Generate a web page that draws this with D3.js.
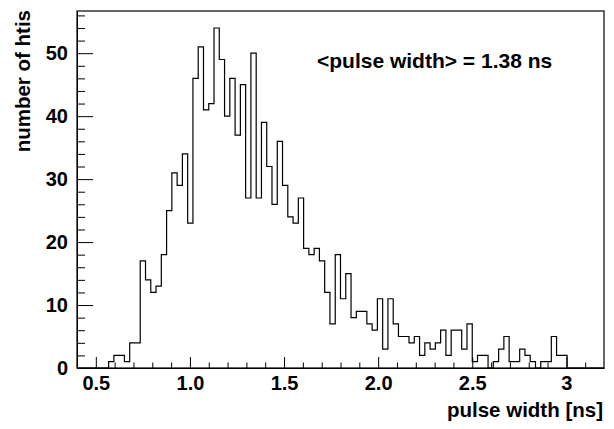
<!DOCTYPE html>
<html>
<head>
<meta charset="utf-8">
<script src="https://cdn.jsdelivr.net/npm/d3@7"></script>
<style>
  body { margin: 0; background: #fff; }
  svg { display: block; }
  text { font-family: "Liberation Sans", Arial, sans-serif; font-weight: bold; }
</style>
</head>
<body>
<svg id="hist" width="614" height="429"></svg>
<script>
// histogram definition: 100 bins between 0.4 and 3.2 ns
var binLo = 0.4, binHi = 3.2
var counts = [
  0, 0, 0, 0, 0, 0, 1, 2, 2, 1,
  4, 4, 17, 14, 12, 13, 18, 25, 31, 29,
  34, 23, 46, 51, 41, 42, 54, 49, 40, 46,
  37, 45, 27, 50, 27, 39, 32, 26, 36, 29,
  24, 23, 27, 19, 18, 19, 17, 12, 7, 18,
  11, 15, 8, 9, 9, 7, 6, 11, 3, 11,
  7, 5, 5, 4, 5, 2, 4, 3, 4, 6,
  2, 6, 6, 3, 7, 1, 2, 2, 0, 1,
  3, 5, 1, 1, 3, 2, 1, 0, 1, 1,
  5, 2, 2, 0, 0, 0, 0, 0, 0, 0
]
var xTicks = [0.5, 1.0, 1.5, 2.0, 2.5, 3.0]
var xTickLabels = ["0.5", "1.0", "1.5", "2.0", "2.5", "3"]
var yTicks = [0, 10, 20, 30, 40, 50]
var meanLabel = "<pulse width> = 1.38 ns"

var svg = d3.select("#hist")
var margin = {top: 11, left: 77, right: 10, bottom: 61}
var width = 614 - margin.left - margin.right
var height = 429 - margin.top - margin.bottom
var g = svg.append("g").attr("transform", "translate(" + margin.left + "," + margin.top + ")")

var binW = (binHi - binLo) / counts.length
var xScale = d3.scaleLinear().domain([binLo, binHi]).range([0, width])
var yScale = d3.scaleLinear().domain([0, d3.max(counts) * 1.05]).range([height, 0])

// histogram outline
var pts = [[binLo, 0]]
counts.forEach(function(c, i) { pts.push([binLo + i * binW, c]) })
pts.push([binHi, 0])
var line = d3.line()
  .x(function(d) { return xScale(d[0]) })
  .y(function(d) { return yScale(d[1]) })
  .curve(d3.curveStepAfter)

g.append("path")
  .datum(pts)
  .attr("fill", "none")
  .attr("stroke", "#000")
  .attr("stroke-width", 1.2)
  .attr("d", line)

// minor ticks
var xMinor = d3.range(5, 32).map(function(d) { return d / 10 }).filter(function(d) { return d % 0.5 > 0.01 && d % 0.5 < 0.49 })
var yMinor = d3.range(0, 57, 2).filter(function(d) { return d % 10 != 0 })

g.append("g")
  .attr("class", "x minor")
  .attr("transform", "translate(0," + height + ")")
  .call(d3.axisBottom(xScale).tickValues(xMinor).tickFormat("").tickSizeInner(-5.5).tickSizeOuter(0))
  .select(".domain").remove()
g.append("g")
  .attr("class", "y minor")
  .call(d3.axisLeft(yScale).tickValues(yMinor).tickFormat("").tickSizeInner(-8).tickSizeOuter(0))
  .select(".domain").remove()

// major axes
var xAxis = g.append("g")
  .attr("class", "x axis")
  .attr("transform", "translate(0," + height + ")")
  .call(d3.axisBottom(xScale).tickValues(xTicks)
    .tickFormat(function(d, i) { return xTickLabels[i] })
    .tickSizeInner(-11).tickSizeOuter(0).tickPadding(8))
var yAxis = g.append("g")
  .attr("class", "y axis")
  .call(d3.axisLeft(yScale).tickValues(yTicks).tickSizeInner(-16).tickSizeOuter(0).tickPadding(9))

svg.selectAll(".axis text").attr("font-size", 20).attr("fill", "#000")
svg.selectAll(".tick line").attr("stroke", "#000")
svg.selectAll(".domain").attr("stroke", "#000")

// frame
g.append("rect")
  .attr("width", width).attr("height", height)
  .attr("fill", "none").attr("stroke", "#000").attr("stroke-width", 1.2)

// titles
svg.append("text")
  .attr("x", 603).attr("y", 417)
  .attr("text-anchor", "end")
  .attr("font-size", 20.5)
  .text("pulse width [ns]")
svg.append("text")
  .attr("transform", "translate(" + [30, 10] + ")rotate(-90)")
  .attr("text-anchor", "end")
  .attr("font-size", 20.5)
  .text("number of htis")

svg.append("text")
  .attr("x", 317).attr("y", 68)
  .attr("font-size", 21)
  .text(meanLabel)
</script>
</body>
</html>
